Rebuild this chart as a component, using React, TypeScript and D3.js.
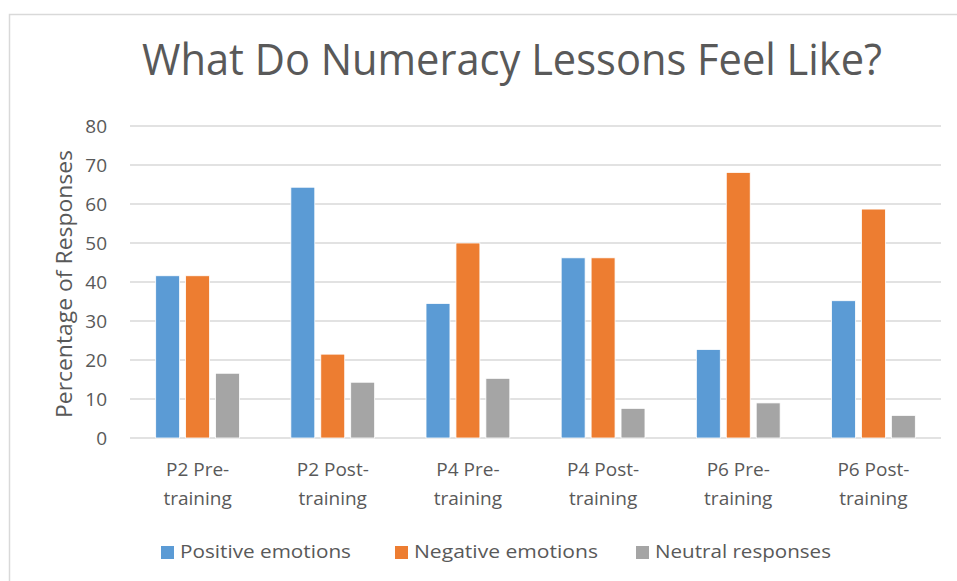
import { useEffect, useRef } from "react"
import * as d3 from "d3"

const categories = [
  ["P2 Pre-", "training"],
  ["P2 Post-", "training"],
  ["P4 Pre-", "training"],
  ["P4 Post-", "training"],
  ["P6 Pre-", "training"],
  ["P6 Post-", "training"],
]
const seriesNames = ["Positive emotions", "Negative emotions", "Neutral responses"]
const positive = [41.6, 64.3, 34.5, 46.2, 22.7, 35.2]
const negative = [41.6, 21.5, 50.0, 46.2, 68.1, 58.7]
const neutral = [16.6, 14.3, 15.3, 7.6, 9.0, 5.8]
const yTicks = [0, 10, 20, 30, 40, 50, 60, 70, 80]
const colors = ["#5B9BD5", "#ED7D31", "#A5A5A5"]

const W = 957
const H = 581
const FONT = "'Open Sans', 'Noto Sans', sans-serif"
const TEXT = "#595959"

export default function App() {
  const svgRef = useRef<SVGSVGElement>(null)

  useEffect(() => {
    if (!svgRef.current) return
    const svg = d3.select(svgRef.current)
    svg.selectAll("*").remove()

    const values = [positive, negative, neutral]
    const left = 130
    const right = 941
    const top = 126
    const bottom = 438

    // chart frame
    svg.append("rect")
      .attr("x", 9.5)
      .attr("y", 14.5)
      .attr("width", W + 20)
      .attr("height", H + 20)
      .attr("fill", "white")
      .attr("stroke", "#D9D9D9")
      .attr("stroke-width", 1.5)

    const x0 = d3.scaleBand<number>()
      .domain(d3.range(categories.length))
      .range([left, right])
      .padding(0)

    const groupW = x0.bandwidth() * 0.62
    const x1 = d3.scaleBand<number>()
      .domain(d3.range(seriesNames.length))
      .range([0, groupW])
      .paddingInner(0.2)
      .paddingOuter(0)

    const y = d3.scaleLinear().domain([0, 80]).range([bottom, top])

    // gridlines
    svg.append("g")
      .selectAll("line")
      .data(yTicks)
      .join("line")
      .attr("x1", left)
      .attr("x2", right)
      .attr("y1", (d) => y(d))
      .attr("y2", (d) => y(d))
      .attr("stroke", "#D9D9D9")
      .attr("stroke-width", 1.3)

    // y tick labels
    svg.append("g")
      .selectAll("text")
      .data(yTicks)
      .join("text")
      .attr("x", 107)
      .attr("y", (d) => y(d))
      .attr("dy", "0.36em")
      .attr("text-anchor", "end")
      .attr("fill", TEXT)
      .style("font-family", FONT)
      .style("font-size", "19px")
      .text((d) => d)

    // bars
    values.forEach((vals, si) => {
      svg.append("g")
        .selectAll("rect")
        .data(vals)
        .join("rect")
        .attr("x", (_, i) => (x0(i) as number) + (x0.bandwidth() - groupW) / 2 + (x1(si) as number))
        .attr("y", (d) => y(d))
        .attr("width", x1.bandwidth())
        .attr("height", (d) => y(0) - y(d))
        .attr("fill", colors[si])
        .attr("stroke", "white")
        .attr("stroke-width", 0.8)
    })

    // category labels
    const cat = svg.append("g")
      .selectAll("text")
      .data(categories)
      .join("text")
      .attr("text-anchor", "middle")
      .attr("fill", TEXT)
      .style("font-family", FONT)
      .style("font-size", "19px")
    cat.append("tspan")
      .attr("x", (_, i) => (x0(i) as number) + x0.bandwidth() / 2)
      .attr("y", 476)
      .text((d) => d[0])
    cat.append("tspan")
      .attr("x", (_, i) => (x0(i) as number) + x0.bandwidth() / 2)
      .attr("y", 505)
      .text((d) => d[1])

    // y axis title
    svg.append("text")
      .attr("transform", "translate(72,284) rotate(-90)")
      .attr("text-anchor", "middle")
      .attr("fill", TEXT)
      .attr("textLength", 268)
      .attr("lengthAdjust", "spacingAndGlyphs")
      .style("font-family", FONT)
      .style("font-size", "21px")
      .text("Percentage of Responses")

    // title
    svg.append("text")
      .attr("x", 512)
      .attr("y", 75)
      .attr("text-anchor", "middle")
      .attr("fill", TEXT)
      .attr("textLength", 740)
      .attr("lengthAdjust", "spacingAndGlyphs")
      .style("font-family", FONT)
      .style("font-size", "43px")
      .text("What Do Numeracy Lessons Feel Like?")

    // legend
    const legendX = [161, 395, 636]
    const legendW = [171, 184, 176]
    const lg = svg.append("g")
      .selectAll("g")
      .data(seriesNames)
      .join("g")
      .attr("transform", (_, i) => `translate(${legendX[i]},0)`)
    lg.append("rect")
      .attr("x", 0)
      .attr("y", 546)
      .attr("width", 13)
      .attr("height", 13)
      .attr("fill", (_, i) => colors[i])
    lg.append("text")
      .attr("x", 19)
      .attr("y", 558)
      .attr("fill", TEXT)
      .attr("textLength", (_, i) => legendW[i])
      .attr("lengthAdjust", "spacingAndGlyphs")
      .style("font-family", FONT)
      .style("font-size", "19px")
      .text((d) => d)
  }, [])

  return (
    <svg
      ref={svgRef}
      width={W}
      height={H}
      style={{ position: "absolute", left: 0, top: 0, background: "white" }}
    />
  )
}
